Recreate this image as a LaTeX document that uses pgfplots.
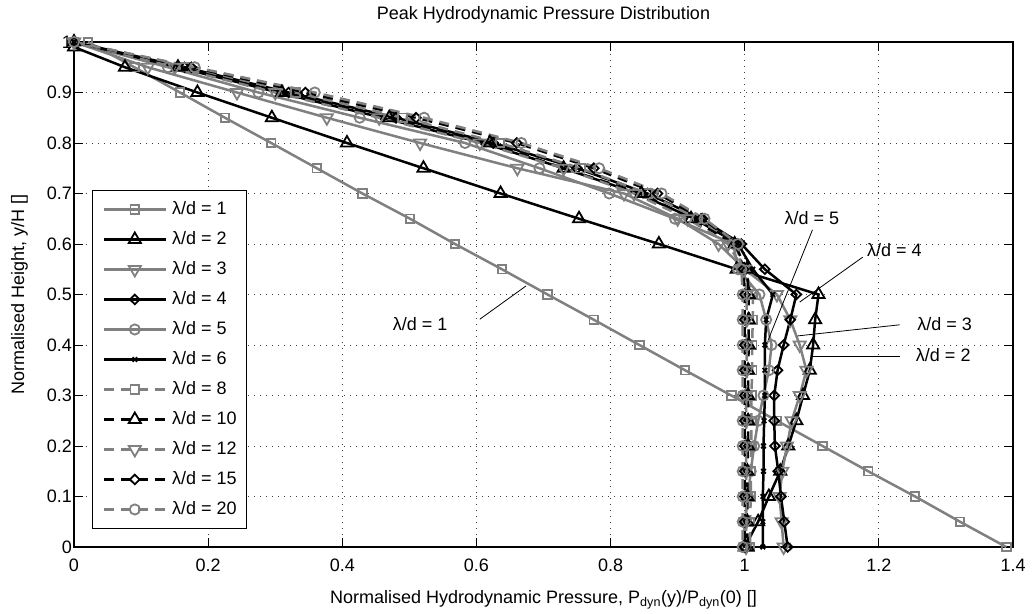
\documentclass[border=0pt]{standalone}
\usepackage{fontspec}
\setmainfont{Liberation Sans}
\usepackage{pgfplots}
\pgfplotsset{compat=1.18}
\definecolor{mgray}{RGB}{128,128,128}
\pgfplotsset{
  base/.style={line width=2.5pt, mark options={solid, line width=1.8pt}},
  dashedline/.style={dash pattern=on 10pt off 7pt},
  sq/.style={mark=square, mark size=4.3pt},
  tri/.style={mark=triangle, mark size=7pt},
  itri/.style={mark=triangle, mark size=7pt, mark options={solid, line width=1.8pt, rotate=180}},
  dia/.style={mark=diamond, mark size=4.8pt, mark options={solid, line width=1.8pt, xscale=1.35}},
  cir/.style={mark=o, mark size=5.1pt},
  crs/.style={mark=x, mark size=3.2pt},
}
\begin{document}
\fontsize{18}{21}\selectfont
\begin{tikzpicture}
\path[use as bounding box] (0,0) rectangle (1032pt,613pt);
\begin{axis}[
  at={(74pt,66pt)}, anchor=south west,
  scale only axis, width=939pt, height=505pt,
  xmin=0, xmax=1.4, ymin=0, ymax=1,
  xtick={0,0.2,0.4,0.6,0.8,1,1.2,1.4},
  xticklabels={0,0.2,0.4,0.6,0.8,1,1.2,1.4},
  ytick={0,0.1,0.2,0.3,0.4,0.5,0.6,0.7,0.8,0.9,1},
  yticklabels={0,0.1,0.2,0.3,0.4,0.5,0.6,0.7,0.8,0.9,1},
  tick align=inside, major tick length=9pt,
  tick style={black, line width=0.9pt},
  xticklabel style={anchor=base, yshift=-24pt},
  yticklabel style={anchor=east, xshift=-2pt, inner sep=0pt},
  grid=major,
  major grid style={black!75, line width=0.9pt, dash pattern=on 1.2pt off 4.8pt},
  axis line style={black, line width=1.2pt},
  title={Peak Hydrodynamic Pressure Distribution},
  title style={at={(axis description cs:0.5,1.0317)}, anchor=base, inner sep=0pt},
  xlabel={Normalised Hydrodynamic Pressure, P\textsubscript{dyn}(y)/P\textsubscript{dyn}(0) []},
  xlabel style={at={(axis description cs:0.5,-0.1109)}, anchor=base, inner sep=0pt},
  ylabel={Normalised Height, y/H []},
  ylabel style={at={(axis description cs:-0.0532,0.5)}, anchor=base, inner sep=0pt},
  legend style={at={(axis description cs:0.0192,0.0356)}, anchor=south west,
    draw=black, line width=1.1pt, fill=white, row sep=12pt,
    inner xsep=10pt, inner ysep=10pt,
    nodes={inner sep=0pt, text height=14pt, text depth=4pt}},
  legend cell align=left,
  legend image code/.code={\draw[mark repeat=2,mark phase=2,#1] plot coordinates {(0pt,0pt) (31pt,0pt) (62pt,0pt)}; \path (67pt,0pt);},
]
% lambda/d = 1
\addplot[mgray, base, sq] coordinates {
(0.021,1) (0.09,0.95) (0.158,0.9) (0.225,0.85) (0.294,0.8) (0.362,0.75) (0.43,0.7) (0.501,0.65) (0.568,0.6) (0.638,0.55) (0.706,0.5) (0.775,0.45) (0.843,0.4) (0.911,0.35) (0.98,0.3) (1.048,0.25) (1.116,0.2) (1.184,0.15) (1.254,0.1) (1.321,0.05) (1.39,0)};
\addlegendentry{λ/d = 1}
% 2
\addplot[black, base, tri] coordinates {
(0,0.99) (0.076,0.95) (0.184,0.9) (0.295,0.85) (0.407,0.8) (0.521,0.75) (0.636,0.7) (0.753,0.65) (0.872,0.6) (0.988,0.55) (1.11,0.5) (1.105,0.45) (1.102,0.4) (1.097,0.35) (1.087,0.3) (1.077,0.25) (1.065,0.2) (1.053,0.15) (1.036,0.1) (1.02,0.05) (1.0,0)};
\addlegendentry{λ/d = 2}
% 3
\addplot[mgray, base, itri] coordinates {
(0,1) (0.11,0.95) (0.243,0.9) (0.377,0.85) (0.516,0.8) (0.661,0.75) (0.82,0.7) (0.9,0.65) (0.961,0.6) (1.0,0.55) (1.048,0.5) (1.068,0.45) (1.082,0.4) (1.092,0.35) (1.082,0.3) (1.07,0.25) (1.063,0.2) (1.056,0.15) (1.052,0.1) (1.055,0.05) (1.058,0)};
\addlegendentry{λ/d = 3}
% 4
\addplot[black, base, dia] coordinates {
(0,1) (0.165,0.95) (0.32,0.9) (0.48,0.85) (0.625,0.8) (0.75,0.75) (0.855,0.7) (0.935,0.65) (0.995,0.6) (1.03,0.55) (1.077,0.5) (1.068,0.45) (1.058,0.4) (1.049,0.35) (1.044,0.3) (1.044,0.25) (1.045,0.2) (1.05,0.15) (1.054,0.1) (1.059,0.05) (1.064,0)};
\addlegendentry{λ/d = 4}
% 5
\addplot[mgray, base, cir] coordinates {
(0,1) (0.14,0.95) (0.275,0.9) (0.426,0.85) (0.583,0.8) (0.694,0.75) (0.798,0.7) (0.896,0.65) (0.983,0.6) (0.99,0.55) (1.022,0.5) (1.032,0.45) (1.04,0.4) (1.036,0.35) (1.028,0.3) (1.02,0.25) (1.014,0.2) (1.009,0.15) (1.005,0.1) (1.0,0.05) (0.998,0)};
\addlegendentry{λ/d = 5}
% 6
\addplot[black, base, crs] coordinates {
(0,1) (0.155,0.95) (0.305,0.9) (0.46,0.85) (0.61,0.8) (0.73,0.75) (0.84,0.7) (0.925,0.65) (0.99,0.6) (1.012,0.55) (1.042,0.5) (1.032,0.45) (1.03,0.4) (1.03,0.35) (1.03,0.3) (1.029,0.25) (1.028,0.2) (1.028,0.15) (1.027,0.1) (1.027,0.05) (1.027,0)};
\addlegendentry{λ/d = 6}
% 8
\addplot[mgray, base, dashedline, sq] coordinates {
(0,1) (0.165,0.95) (0.33,0.9) (0.49,0.85) (0.635,0.8) (0.755,0.75) (0.855,0.7) (0.93,0.65) (0.985,0.6) (1.0,0.55) (1.012,0.5) (1.012,0.45) (1.011,0.4) (1.011,0.35) (1.01,0.3) (1.01,0.25) (1.01,0.2) (1.009,0.15) (1.009,0.1) (1.008,0.05) (1.008,0)};
\addlegendentry{λ/d = 8}
% 10
\addplot[black, base, dashedline, tri] coordinates {
(0,1) (0.155,0.95) (0.31,0.9) (0.47,0.85) (0.62,0.8) (0.73,0.75) (0.846,0.7) (0.92,0.65) (0.985,0.6) (1.003,0.55) (1.006,0.5) (1.006,0.45) (1.006,0.4) (1.005,0.35) (1.005,0.3) (1.005,0.25) (1.005,0.2) (1.004,0.15) (1.004,0.1) (1.004,0.05) (1.004,0)};
\addlegendentry{λ/d = 10}
% 12
\addplot[mgray, base, dashedline, itri] coordinates {
(0,1) (0.15,0.95) (0.3,0.9) (0.455,0.85) (0.605,0.8) (0.73,0.75) (0.835,0.7) (0.915,0.65) (0.975,0.6) (0.998,0.55) (1.003,0.5) (1.003,0.45) (1.003,0.4) (1.003,0.35) (1.002,0.3) (1.002,0.25) (1.002,0.2) (1.002,0.15) (1.002,0.1) (1.002,0.05) (1.002,0)};
\addlegendentry{λ/d = 12}
% 15
\addplot[black, base, dashedline, dia] coordinates {
(0,1) (0.175,0.95) (0.345,0.9) (0.51,0.85) (0.66,0.8) (0.775,0.75) (0.87,0.7) (0.937,0.65) (0.988,0.6) (0.998,0.55) (1.0,0.5) (1.0,0.45) (1.0,0.4) (1.0,0.35) (1.0,0.3) (1.0,0.25) (1.0,0.2) (1.0,0.15) (1.0,0.1) (1.0,0.05) (1.0,0)};
\addlegendentry{λ/d = 15}
% 20
\addplot[mgray, base, dashedline, cir] coordinates {
(0,1) (0.18,0.95) (0.359,0.9) (0.522,0.85) (0.667,0.8) (0.783,0.75) (0.876,0.7) (0.94,0.65) (0.99,0.6) (0.995,0.55) (0.997,0.5) (0.997,0.45) (0.997,0.4) (0.997,0.35) (0.997,0.3) (0.997,0.25) (0.997,0.2) (0.997,0.15) (0.997,0.1) (0.997,0.05) (0.997,0)};
\addlegendentry{λ/d = 20}
% annotations
\draw[black, line width=0.8pt] (axis cs:0.605,0.451) -- (axis cs:0.674,0.517);
\node at (axis cs:0.516,0.442) {λ/d = 1};
\draw[black, line width=0.8pt] (axis cs:1.231,0.378) -- (axis cs:1.101,0.378);
\node at (axis cs:1.296,0.38) {λ/d = 2};
\draw[black, line width=0.8pt] (axis cs:1.231,0.44) -- (axis cs:1.079,0.418);
\node at (axis cs:1.298,0.442) {λ/d = 3};
\draw[black, line width=0.8pt] (axis cs:1.176,0.574) -- (axis cs:1.082,0.485);
\node at (axis cs:1.223,0.588) {λ/d = 4};
\draw[black, line width=0.8pt] (axis cs:1.101,0.628) -- (axis cs:1.035,0.41);
\node at (axis cs:1.100,0.651) {λ/d = 5};
\end{axis}
\end{tikzpicture}
\end{document}
